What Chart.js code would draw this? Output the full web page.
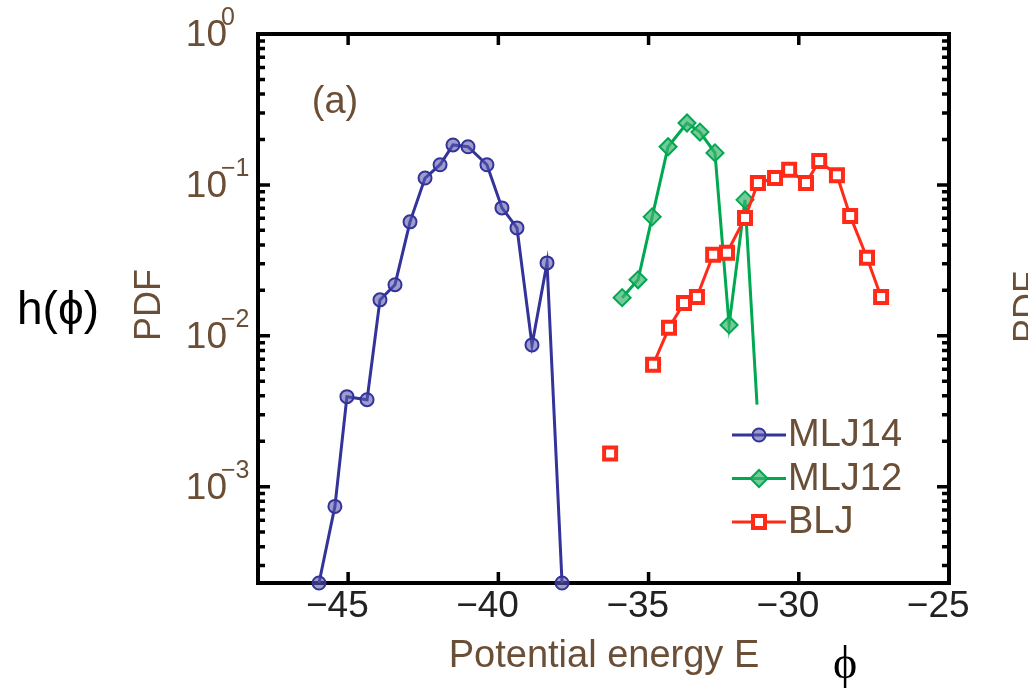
<!DOCTYPE html>
<html>
<head>
<meta charset="utf-8">
<script src="https://cdn.jsdelivr.net/npm/chart.js@4.4.0/dist/chart.umd.min.js"></script>
<style>
html, body { margin: 0; padding: 0; background: #fff; }
canvas { display: block; }
</style>
</head>
<body>
<canvas id="myChart" width="1028" height="688"></canvas>
<script>
// values (x = potential energy, y = PDF)
const mlj14X = [-45.97, -45.44, -45.04, -44.37, -43.94, -43.44, -42.94, -42.44, -41.94, -41.51, -41.01, -40.38, -39.88, -39.38, -38.88, -38.38, -37.88];
const mlj14Y = [0.00023, 0.00074, 0.00395, 0.00377, 0.0173, 0.0218, 0.0569, 0.111, 0.136, 0.184, 0.179, 0.136, 0.0704, 0.0519, 0.0087, 0.0304, 0.00023];

const mlj12X = [-35.88, -35.35, -34.88, -34.35, -33.72, -33.29, -32.79, -32.32, -31.79, -31.39];
const mlj12Y = [0.0179, 0.0235, 0.0614, 0.179, 0.257, 0.224, 0.163, 0.0118, 0.0796, 0.0035];

const bljX = [-36.28, -35.8, -35.3, -34.85, -34.32, -33.82, -33.39, -32.85, -32.39, -31.79, -31.36, -30.79, -30.32, -29.76, -29.32, -28.73, -28.29, -27.73, -27.26];
const bljY = [0.00166, null, null, 0.00643, 0.0113, 0.0165, 0.0181, 0.0344, 0.0355, 0.0604, 0.103, 0.111, 0.126, 0.103, 0.144, 0.116, 0.0623, 0.0329, 0.0181];

const seriesNames = ['MLJ14', 'MLJ12', 'BLJ'];
const xTicks = [-45, -40, -35, -30, -25];
const xTickLabels = ['−45', '−40', '−35', '−30', '−25'];
const yDecades = [0, -1, -2, -3];
const yTickSup = ['0', '−1', '−2', '−3'];

const sans = '"Liberation Sans", Arial, sans-serif';
const textColor = '#6b4e36';

function points(xs, ys) {
    return xs.map((x, i) => ({x: x, y: ys[i]}));
}

// axis box and inward ticks on all four sides
const frame = {
    id: 'frame',
    beforeDatasetsDraw(chart) {
        const ctx = chart.ctx;
        const a = chart.chartArea;
        const xs = chart.scales.x;
        const ys = chart.scales.y;
        ctx.save();
        ctx.strokeStyle = '#000';
        ctx.lineWidth = 3.5;
        ctx.beginPath();
        xTicks.forEach(v => {
            const px = xs.getPixelForValue(v);
            ctx.moveTo(px, a.bottom); ctx.lineTo(px, a.bottom - 11);
            ctx.moveTo(px, a.top); ctx.lineTo(px, a.top + 11);
        });
        for (let d = -4; d <= 0; d++) {
            for (let m = 1; m < 10; m++) {
                const v = m * Math.pow(10, d);
                if (v < ys.min || v > ys.max) continue;
                const py = ys.getPixelForValue(v);
                const len = m === 1 ? 12 : 7;
                ctx.moveTo(a.left, py); ctx.lineTo(a.left + len, py);
                ctx.moveTo(a.right, py); ctx.lineTo(a.right - len, py);
            }
        }
        ctx.stroke();
        ctx.lineWidth = 4;
        ctx.strokeRect(a.left, a.top, a.right - a.left, a.bottom - a.top);
        ctx.restore();
    }
};

// tick labels, titles, legend
const labels = {
    id: 'labels',
    afterDraw(chart) {
        const ctx = chart.ctx;
        const xs = chart.scales.x;
        const ys = chart.scales.y;
        ctx.save();

        // x tick labels, digits centred on the tick
        ctx.font = '37px ' + sans;
        ctx.fillStyle = '#222';
        ctx.textBaseline = 'middle';
        ctx.textAlign = 'left';
        const minusW = ctx.measureText('−').width;
        xTicks.forEach((v, i) => {
            const px = xs.getPixelForValue(v);
            const w = ctx.measureText(xTickLabels[i]).width;
            ctx.fillText(xTickLabels[i], px - (w - minusW) / 2 - minusW, 607);
        });

        // y tick labels 10^n
        ctx.fillStyle = textColor;
        yDecades.forEach((d, i) => {
            const py = ys.getPixelForValue(Math.pow(10, d));
            ctx.font = '37px ' + sans;
            ctx.textAlign = 'right';
            ctx.fillText('10', 227, py + 2);
            ctx.font = '25px ' + sans;
            ctx.textAlign = 'left';
            ctx.fillText(yTickSup[i], 221, py - 16);
        });

        // axis titles
        ctx.font = '38px ' + sans;
        ctx.textAlign = 'center';
        ctx.textBaseline = 'alphabetic';
        ctx.fillText('Potential energy E', 604, 667);

        ctx.save();
        ctx.translate(160, 305);
        ctx.rotate(-Math.PI / 2);
        ctx.font = '36px ' + sans;
        ctx.fillText('PDF', 0, 0);
        ctx.restore();

        // next panel's label, cut by the page edge
        ctx.save();
        ctx.translate(1039, 307);
        ctx.rotate(-Math.PI / 2);
        ctx.font = '36px ' + sans;
        ctx.fillText('PDF', 0, 0);
        ctx.restore();

        ctx.font = '38px ' + sans;
        ctx.textBaseline = 'middle';
        ctx.fillText('(a)', 335, 103);

        // legend
        chart.data.datasets.forEach((ds, i) => {
            const y = 435 + i * 43.5;
            ctx.strokeStyle = ds.borderColor;
            ctx.lineWidth = ds.borderWidth;
            ctx.beginPath();
            ctx.moveTo(732, y); ctx.lineTo(786, y);
            ctx.stroke();
            ctx.fillStyle = ds.pointBackgroundColor;
            ctx.strokeStyle = ds.pointBorderColor;
            ctx.lineWidth = ds.pointBorderWidth;
            Chart.helpers.drawPoint(ctx, {
                pointStyle: ds.pointStyle,
                radius: ds.legendRadius,
                rotation: 0,
                borderWidth: ds.pointBorderWidth
            }, 759, y);
            ctx.fillStyle = textColor;
            ctx.font = '38px ' + sans;
            ctx.textAlign = 'left';
            ctx.textBaseline = 'middle';
            ctx.fillText(ds.label, 788, y + 1);
        });

        // overlay labels in black
        ctx.fillStyle = '#000';
        ctx.textAlign = 'left';
        ctx.textBaseline = 'alphabetic';
        ctx.font = '46px ' + sans;
        ctx.fillText('h(ϕ)', 17, 324);
        ctx.font = '46px "Liberation Serif", "DejaVu Serif", serif';
        ctx.textAlign = 'center';
        ctx.fillText('ϕ', 845, 678);

        ctx.restore();
    }
};

const ctx = document.getElementById('myChart').getContext('2d');
const myChart = new Chart(ctx, {
    type: 'line',
    data: {
        datasets: [
            {
                label: seriesNames[0],
                data: points(mlj14X, mlj14Y),
                borderColor: '#333399',
                borderWidth: 3,
                pointStyle: 'circle',
                pointRadius: 6.5,
                legendRadius: 6.5,
                pointBorderWidth: 2,
                pointBorderColor: '#333399',
                pointBackgroundColor: 'rgba(90,90,175,0.6)',
                order: 2
            },
            {
                label: seriesNames[1],
                data: points(mlj12X, mlj12Y),
                borderColor: '#00a852',
                borderWidth: 3,
                pointStyle: 'rectRot',
                pointRadius: [8.5, 8.5, 8.5, 8.5, 8.5, 8.5, 8.5, 8.5, 8.5, 0],
                legendRadius: 8.5,
                pointBorderWidth: 2,
                pointBorderColor: '#00a852',
                pointBackgroundColor: 'rgba(60,180,110,0.7)',
                order: 1
            },
            {
                label: seriesNames[2],
                data: points(bljX, bljY),
                borderColor: '#ff2a18',
                borderWidth: 3,
                pointStyle: 'rect',
                pointRadius: 8.5,
                legendRadius: 8.5,
                pointBorderWidth: 4,
                pointBorderColor: '#ff2a18',
                pointBackgroundColor: '#ffffff',
                order: 0
            }
        ]
    },
    options: {
        responsive: false,
        animation: false,
        devicePixelRatio: 1,
        spanGaps: false,
        clip: false,
        layout: {padding: {left: 258, top: 34, right: 79, bottom: 105}},
        elements: {line: {tension: 0}},
        scales: {
            x: {type: 'linear', min: -48, max: -25, display: false},
            y: {type: 'logarithmic', min: 0.00023, max: 1, display: false}
        },
        plugins: {
            legend: {display: false},
            tooltip: {enabled: false}
        }
    },
    plugins: [frame, labels]
});
</script>
</body>
</html>
